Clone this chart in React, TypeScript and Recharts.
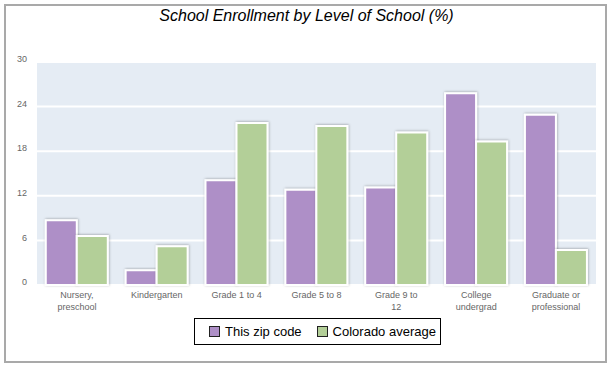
import React from "react";
import { BarChart, Bar, XAxis, YAxis, CartesianGrid } from "recharts";

const categories = [
  "Nursery, preschool",
  "Kindergarten",
  "Grade 1 to 4",
  "Grade 5 to 8",
  "Grade 9 to 12",
  "College undergrad",
  "Graduate or professional",
];
const tickLines = [
  ["Nursery,", "preschool"],
  ["Kindergarten"],
  ["Grade 1 to 4"],
  ["Grade 5 to 8"],
  ["Grade 9 to", "12"],
  ["College", "undergrad"],
  ["Graduate or", "professional"],
];
const zipValues = [8.7, 2.0, 14.1, 12.8, 13.1, 25.8, 22.9];
const coloradoValues = [6.6, 5.2, 21.8, 21.4, 20.5, 19.3, 4.7];
const yTicks = [0, 6, 12, 18, 24, 30];
const series = [
  { key: "zip", name: "This zip code", color: "#ae8fc7" },
  { key: "co", name: "Colorado average", color: "#b3cf98" },
];
const title = "School Enrollment by Level of School (%)";

const data = categories.map((c, i) => ({
  name: c,
  zip: zipValues[i],
  co: coloradoValues[i],
}));

const FONT = "'Liberation Sans', Arial, sans-serif";

function XTick(props: any) {
  const { x, y, payload } = props;
  const idx = categories.indexOf(payload.value);
  const lines = idx >= 0 ? tickLines[idx] : [String(payload.value)];
  return (
    <text
      x={x}
      y={y + 5}
      textAnchor="middle"
      fontSize={9}
      fontFamily={FONT}
      fill="#666"
    >
      {lines.map((l: string, i: number) => (
        <tspan key={i} x={x} dy={i === 0 ? 0 : 11.5}>
          {l}
        </tspan>
      ))}
    </text>
  );
}

export default function App() {
  return (
    <div
      style={{
        position: "absolute",
        left: 0,
        top: 0,
        width: 611,
        height: 368,
        background: "#fff",
        fontFamily: FONT,
      }}
    >
      <div
        style={{
          position: "absolute",
          left: 4,
          top: 4,
          width: 603,
          height: 359,
          border: "2px solid #a9a9a9",
          boxSizing: "border-box",
        }}
      />
      <div
        style={{
          position: "absolute",
          left: 0,
          top: 7,
          width: 613,
          textAlign: "center",
          fontSize: 16,
          lineHeight: "18px",
          fontStyle: "italic",
          color: "#000",
        }}
      >
        {title}
      </div>
      <div style={{ position: "absolute", left: 0, top: 0 }}>
        <BarChart
          width={611}
          height={368}
          data={data}
          margin={{ top: 62, right: 15, bottom: 53, left: 7 }}
          barCategoryGap="11%"
          barGap={0}
        >
          <defs>
            <filter id="barShadow" x="-20%" y="-20%" width="140%" height="140%">
              <feDropShadow dx="0.5" dy="-0.5" stdDeviation="0.8" floodColor="#000" floodOpacity="0.3" />
            </filter>
          </defs>
          <CartesianGrid
            vertical={false}
            stroke="#ffffff"
            strokeWidth={2}
            fill="#e5ecf4"
            fillOpacity={1}
          />
          <XAxis
            dataKey="name"
            height={30}
            axisLine={false}
            tickLine={false}
            interval={0}
            tick={<XTick />}
          />
          <YAxis
            width={30}
            domain={[0, 30]}
            ticks={yTicks}
            axisLine={false}
            tickLine={false}
            tickMargin={4}
            tick={{ fontSize: 9, fill: "#666", fontFamily: FONT, dy: -3 }}
          />
          {series.map((s) => (
            <Bar
              key={s.key}
              dataKey={s.key}
              name={s.name}
              fill={s.color}
              stroke="#ffffff"
              strokeWidth={2}
              filter="url(#barShadow)"
              isAnimationActive={false}
            />
          ))}
        </BarChart>
      </div>
      <div
        style={{
          position: "absolute",
          left: 194,
          top: 318,
          width: 247,
          height: 27,
          border: "1px solid #000",
          boxSizing: "border-box",
          display: "flex",
          alignItems: "center",
          paddingLeft: 14,
          fontSize: 13,
          color: "#000",
          whiteSpace: "nowrap",
        }}
      >
        {series.map((s, i) => (
          <div
            key={s.key}
            style={{
              display: "flex",
              alignItems: "center",
              marginLeft: i === 0 ? 0 : 15,
            }}
          >
            <span
              style={{
                display: "inline-block",
                width: 11,
                height: 11,
                boxSizing: "border-box",
                border: "1px solid #222",
                background: s.color,
                marginRight: 5,
              }}
            />
            <span>{s.name}</span>
          </div>
        ))}
      </div>
    </div>
  );
}
